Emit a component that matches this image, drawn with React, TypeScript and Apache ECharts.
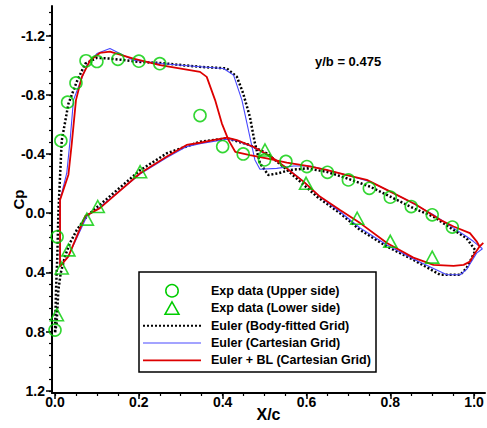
import React, { useEffect, useRef } from "react";
import * as echarts from "echarts";

// ---- Data (x/c, Cp) ----
const expUpper: number[][] = [
  [0.0, 0.79], [0.005, 0.16], [0.014, -0.49], [0.03, -0.75], [0.05, -0.88],
  [0.074, -1.03], [0.1, -1.025], [0.15, -1.04], [0.2, -1.027], [0.25, -1.01],
  [0.346, -0.66], [0.4, -0.45], [0.449, -0.4], [0.5, -0.36], [0.551, -0.35],
  [0.601, -0.315], [0.65, -0.276], [0.7, -0.225], [0.75, -0.168], [0.8, -0.108],
  [0.85, -0.045], [0.9, 0.011], [0.948, 0.094],
];

const expLower: number[][] = [
  [0.0045, 0.686], [0.016, 0.37], [0.032, 0.248], [0.076, 0.04], [0.102, -0.045],
  [0.203, -0.28], [0.501, -0.427], [0.599, -0.202], [0.721, 0.034], [0.8, 0.19],
  [0.9, 0.297],
];

const eulerBodyFitted: number[][] = [
  [1.002, 0.247], [0.982, 0.169], [0.951, 0.113], [0.903, 0.023], [0.855, -0.034],
  [0.8, -0.112], [0.752, -0.179], [0.696, -0.236], [0.648, -0.28], [0.601, -0.303],
  [0.561, -0.292], [0.533, -0.27], [0.509, -0.258], [0.489, -0.337], [0.477, -0.472],
  [0.465, -0.651], [0.449, -0.809], [0.434, -0.921], [0.41, -0.978], [0.346, -0.989],
  [0.251, -1.015], [0.203, -1.022], [0.131, -1.045], [0.1, -1.05], [0.072, -1.01],
  [0.052, -0.889], [0.032, -0.74], [0.016, -0.49], [0.012, -0.25], [0.008, 0.0],
  [0.0055, 0.29], [0.0024, 0.52], [0.0, 0.81],
  [0.004, 0.74], [0.008, 0.52], [0.0136, 0.405], [0.024, 0.29], [0.036, 0.2],
  [0.052, 0.113], [0.076, 0.02], [0.1, -0.04], [0.123, -0.095], [0.203, -0.29],
  [0.267, -0.405], [0.346, -0.483], [0.41, -0.506], [0.465, -0.46], [0.505, -0.405],
  [0.545, -0.314], [0.585, -0.213], [0.625, -0.112], [0.68, 0.0], [0.728, 0.113],
  [0.792, 0.225], [0.855, 0.315], [0.919, 0.416], [0.967, 0.416], [0.982, 0.371],
  [1.002, 0.259],
];

const eulerCartesian: number[][] = [
  [1.02, 0.24], [0.998, 0.19], [0.982, 0.158], [0.951, 0.101], [0.903, 0.011],
  [0.847, -0.078], [0.8, -0.146], [0.752, -0.213], [0.696, -0.258], [0.648, -0.292],
  [0.609, -0.319], [0.569, -0.319], [0.529, -0.303], [0.489, -0.297], [0.477, -0.36],
  [0.47, -0.449], [0.458, -0.607], [0.446, -0.764], [0.426, -0.933], [0.402, -0.978],
  [0.346, -0.99], [0.251, -1.011], [0.187, -1.034], [0.131, -1.113], [0.1, -1.079],
  [0.076, -1.0], [0.056, -0.854], [0.044, -0.764], [0.036, -0.494], [0.028, -0.27],
  [0.012, -0.09], [0.012, 0.36],
  [0.032, 0.29], [0.076, 0.02], [0.107, -0.04], [0.203, -0.265], [0.266, -0.375],
  [0.314, -0.45], [0.346, -0.47], [0.41, -0.5], [0.434, -0.49], [0.473, -0.445],
  [0.513, -0.385], [0.553, -0.305], [0.593, -0.215], [0.632, -0.11], [0.68, -0.01],
  [0.728, 0.1], [0.792, 0.215], [0.855, 0.31], [0.935, 0.416], [0.967, 0.416],
  [0.982, 0.38], [1.006, 0.27], [1.02, 0.24],
];

const eulerBL: number[][] = [
  [1.022, 0.2], [1.013, 0.225], [1.006, 0.19], [0.99, 0.135], [0.951, 0.09],
  [0.919, 0.045], [0.86, -0.06], [0.8, -0.146], [0.744, -0.225], [0.696, -0.258],
  [0.648, -0.292], [0.601, -0.319], [0.553, -0.341], [0.505, -0.371], [0.465, -0.393],
  [0.43, -0.415], [0.414, -0.494], [0.398, -0.607], [0.382, -0.764], [0.362, -0.921],
  [0.346, -0.955], [0.251, -1.0], [0.187, -1.045], [0.131, -1.092], [0.107, -1.083],
  [0.084, -1.034], [0.064, -0.921], [0.05, -0.764], [0.04, -0.472], [0.032, -0.26],
  [0.012, -0.09], [0.012, 0.36],
  [0.032, 0.292], [0.072, 0.02], [0.107, -0.034], [0.203, -0.27], [0.266, -0.382],
  [0.314, -0.461], [0.346, -0.476], [0.378, -0.494], [0.41, -0.51], [0.434, -0.494],
  [0.473, -0.449], [0.513, -0.386], [0.553, -0.303], [0.593, -0.213], [0.632, -0.112],
  [0.68, -0.022], [0.728, 0.067], [0.792, 0.202], [0.855, 0.3], [0.903, 0.349],
  [0.951, 0.356], [0.975, 0.349], [0.99, 0.327], [1.002, 0.27], [1.013, 0.225],
];

const xTickLabels = [0, 0.2, 0.4, 0.6, 0.8, 1.0];
const yTickLabels = [-1.2, -0.8, -0.4, 0.0, 0.4, 0.8, 1.2];

const legendNames = [
  "Exp data (Upper side)",
  "Exp data (Lower side)",
  "Euler (Body-fitted Grid)",
  "Euler (Cartesian Grid)",
  "Euler + BL (Cartesian Grid)",
];

const annotation = "y/b = 0.475";

const GREEN = "#00cc00";
const BLUE = "#4848ff";
const RED = "#dd0000";
const FONT = "'Liberation Sans', Arial, sans-serif";

export default function App() {
  const ref = useRef<HTMLDivElement>(null);

  useEffect(() => {
    if (!ref.current) return;
    const chart = echarts.init(ref.current, undefined, { renderer: "svg" });

    const xMinor: number[] = [];
    for (let i = 0; i <= 20; i++) xMinor.push(Math.round(i * 5) / 100);
    const yMinor: number[] = [];
    for (let i = -17; i <= 15; i++) yMinor.push(Math.round(i * 8) / 100);

    const xMin = -0.0072;
    const xMax = 1.026;
    const yMin = -1.4;
    const yMax = 1.215;

    const labelStyle = {
      color: "#000",
      fontWeight: "bold" as const,
      fontSize: 14,
      fontFamily: FONT,
    };

    // legend graphics
    const rowY = [290.7, 308.3, 325.7, 343, 360.3];
    const symX = 172;
    const textX = 211;
    const legendEls: any[] = [
      {
        type: "rect",
        shape: { x: 139, y: 272, width: 237, height: 100 },
        style: { fill: "#fff", stroke: "#000", lineWidth: 1.5 },
        z: 100,
      },
      {
        type: "circle",
        shape: { cx: symX, cy: rowY[0], r: 6.2 },
        style: { fill: "none", stroke: GREEN, lineWidth: 1.5 },
        z: 101,
      },
      {
        type: "polygon",
        shape: { points: [[symX, rowY[1] - 6.5], [symX + 7, rowY[1] + 6], [symX - 7, rowY[1] + 6]] },
        style: { fill: "none", stroke: GREEN, lineWidth: 1.5 },
        z: 101,
      },
      {
        type: "line",
        shape: { x1: 143, y1: rowY[2], x2: 201, y2: rowY[2] },
        style: { stroke: "#000", lineWidth: 2, lineDash: [2, 2] },
        z: 101,
      },
      {
        type: "line",
        shape: { x1: 143, y1: rowY[3], x2: 201, y2: rowY[3] },
        style: { stroke: BLUE, lineWidth: 1.2 },
        z: 101,
      },
      {
        type: "line",
        shape: { x1: 143, y1: rowY[4], x2: 201, y2: rowY[4] },
        style: { stroke: RED, lineWidth: 1.8 },
        z: 101,
      },
      ...legendNames.map((n, i) => ({
        type: "text",
        x: textX,
        y: rowY[i],
        style: {
          text: n,
          fill: "#000",
          font: `bold 12.5px ${FONT}`,
          verticalAlign: "middle",
        },
        z: 101,
      })),
      {
        type: "text",
        x: 315,
        y: 61,
        style: {
          text: annotation,
          fill: "#000",
          font: `bold 13px ${FONT}`,
          verticalAlign: "middle",
        },
        z: 101,
      },
    ];

    const option: any = {
      animation: false,
      backgroundColor: "#fff",
      grid: { left: 52, top: 6, width: 433, height: 387, containLabel: false, outerBoundsMode: "none" },
      xAxis: [
        {
          type: "value",
          min: xMin,
          max: xMax,
          name: "X/c",
          nameLocation: "middle",
          nameGap: 13,
          nameMoveOverlap: false,
          nameTextStyle: { color: "#000", fontWeight: "bold", fontSize: 16, fontFamily: FONT },
          axisLine: { show: true, onZero: false, lineStyle: { color: "#000", width: 2 } },
          axisTick: { show: true, customValues: xTickLabels, length: 6, lineStyle: { color: "#000", width: 1.5 } },
          axisLabel: { ...labelStyle, margin: 2, customValues: xTickLabels, formatter: (v: number) => v.toFixed(1) },
          splitLine: { show: false },
        },
        {
          type: "value",
          min: xMin,
          max: xMax,
          position: "bottom",
          axisLine: { show: false, onZero: false },
          axisTick: { show: true, customValues: xMinor, length: 3, lineStyle: { color: "#000", width: 1.2 } },
          axisLabel: { show: false },
          splitLine: { show: false },
        },
      ],
      yAxis: [
        {
          type: "value",
          min: yMin,
          max: yMax,
          inverse: true,
          name: "Cp",
          nameLocation: "middle",
          nameGap: 26,
          nameRotate: 90,
          nameMoveOverlap: false,
          nameTextStyle: { color: "#000", fontWeight: "bold", fontSize: 15, fontFamily: FONT },
          axisLine: { show: true, onZero: false, lineStyle: { color: "#000", width: 2 } },
          axisTick: { show: true, customValues: yTickLabels, length: 6, lineStyle: { color: "#000", width: 1.5 } },
          axisLabel: { ...labelStyle, margin: 7, customValues: yTickLabels, formatter: (v: number) => (Math.abs(v) < 1e-9 ? "0.0" : v.toFixed(1)) },
          splitLine: { show: false },
        },
        {
          type: "value",
          min: yMin,
          max: yMax,
          inverse: true,
          position: "left",
          axisLine: { show: false, onZero: false },
          axisTick: { show: true, customValues: yMinor, length: 3, lineStyle: { color: "#000", width: 1.2 } },
          axisLabel: { show: false },
          splitLine: { show: false },
        },
      ],
      series: [
        {
          name: legendNames[2],
          type: "line",
          data: eulerBodyFitted,
          showSymbol: false,
          symbol: "none",
          lineStyle: { color: "#000", width: 2.5, type: [2, 2] },
          z: 2,
        },
        {
          name: legendNames[3],
          type: "line",
          data: eulerCartesian,
          showSymbol: false,
          symbol: "none",
          lineStyle: { color: BLUE, width: 1.1 },
          z: 3,
        },
        {
          name: legendNames[4],
          type: "line",
          data: eulerBL,
          showSymbol: false,
          symbol: "none",
          lineStyle: { color: RED, width: 1.8 },
          z: 4,
        },
        {
          name: legendNames[0],
          type: "scatter",
          data: expUpper,
          symbol: "circle",
          symbolSize: 12,
          itemStyle: { color: "transparent", borderColor: GREEN, borderWidth: 1.6 },
          z: 5,
        },
        {
          name: legendNames[1],
          type: "scatter",
          data: expLower,
          symbol: "triangle",
          symbolSize: [13, 12],
          itemStyle: { color: "transparent", borderColor: GREEN, borderWidth: 1.6 },
          z: 5,
        },
      ],
      graphic: legendEls,
    };

    chart.setOption(option);
    return () => chart.dispose();
  }, []);

  return <div ref={ref} style={{ width: 487, height: 428, position: "absolute", left: 0, top: 0 }} />;
}
